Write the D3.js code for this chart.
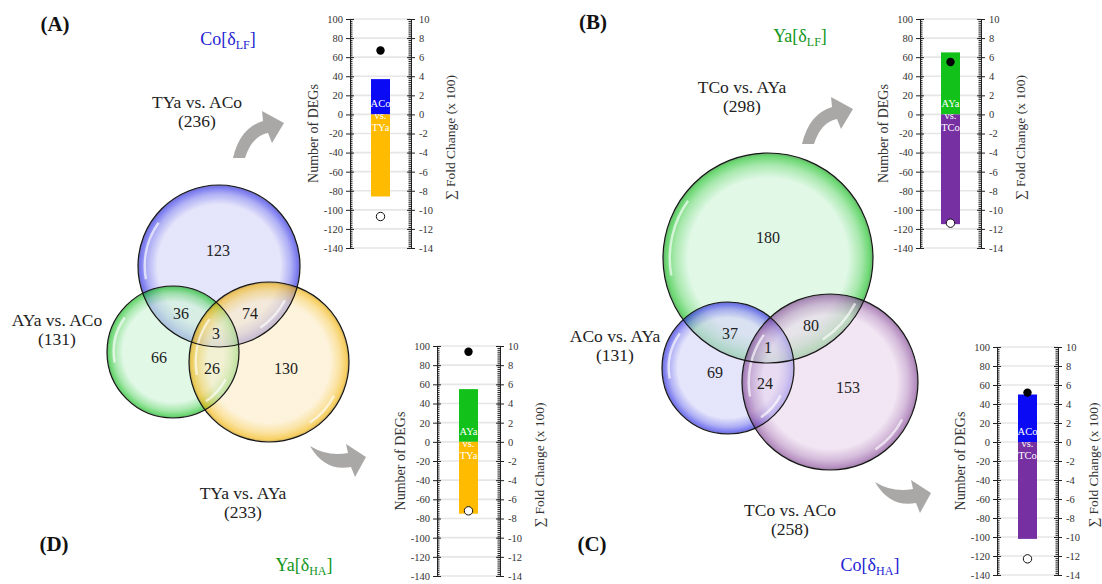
<!doctype html>
<html>
<head>
<meta charset="utf-8">
<title>DEG Venn diagrams</title>
<style>
  body { margin: 0; background: #fff; }
  svg text { font-family: "Liberation Serif", "DejaVu Serif", serif; }
</style>
<script src="https://d3js.org/d3.v7.min.js"></script>
</head>
<body>
<svg id="fig" width="1102" height="584"></svg>
<script>
   // ---- data ----
   // small bar charts, panels A, B, C, D
   var upCounts   = [37, 65, 50, 55];
   var downCounts = [-86, -115, -102, -75];
   var upFold     = [6.7, 5.5, 5.2, 9.4];
   var downFold   = [-10.7, -11.4, -12.3, -7.2];
   var upGroup    = ["ACo", "AYa", "ACo", "AYa"];
   var downGroup  = ["TYa", "TCo", "TCo", "TYa"];
   var degTicks   = [100, 80, 60, 40, 20, 0, -20, -40, -60, -80, -100, -120, -140];
   var foldTicks  = [10, 8, 6, 4, 2, 0, -2, -4, -6, -8, -10, -12, -14];

   // venn diagrams: regions = [only1, only2, only3, 1&2, 1&3, 2&3, all]
   var vennSetsA    = ["TYa vs. ACo", "AYa vs. ACo", "TYa vs. AYa"];
   var vennTotalsA  = [236, 131, 233];
   var vennRegionsA = [123, 66, 130, 36, 74, 26, 3];
   var vennSetsB    = ["TCo vs. AYa", "ACo vs. AYa", "TCo vs. ACo"];
   var vennTotalsB  = [298, 131, 258];
   var vennRegionsB = [180, 69, 153, 37, 80, 24, 1];

   var panelLetters = ["(A)", "(B)", "(C)", "(D)"];
   var panelNames   = ["Co", "Ya", "Co", "Ya"];
   var panelSubs    = ["LF", "LF", "HA", "HA"];

   // ---- styles / layout ----
   var groupColor = { ACo: "#0a0af5", AYa: "#12c21a", TYa: "#ffbb00", TCo: "#7630a2" };
   var nameColor  = { Co: "#2323d2", Ya: "#12961a" };
   var vennColors = {
      blue:   { tint: "#d4d4f8", rim: "#2a2ae6" },
      green:  { tint: "#cff4d8", rim: "#12c01c" },
      orange: { tint: "#fcecc6", rim: "#f2b100" },
      purple: { tint: "#ead6ec", rim: "#8a4c9c" }
   };

   var miniBoxes = [
      { xl: 350, xr: 411, y0: 19,  y1: 248, letter: [55, 24],  name: [228, 40] },
      { xl: 920, xr: 981, y0: 19,  y1: 248, letter: [593, 22], name: [800, 37] },
      { xl: 997, xr: 1058, y0: 347, y1: 575, letter: [592, 544], name: [870, 566] },
      { xl: 437, xr: 500, y0: 346, y1: 576, letter: [54, 544], name: [304, 566] }
   ];

   var vennLayoutA = {
      colors: ["blue", "green", "orange"],
      circles: [[219, 266, 81], [173, 352, 66], [269, 362, 80]],
      regions: [[218, 250], [159, 357], [286, 368], [181, 313], [250, 313], [212, 368], [216, 333]],
      labels: [[197, 102], [57, 320], [243, 493]]
   };
   var vennLayoutB = {
      colors: ["green", "blue", "purple"],
      circles: [[768, 258, 105], [728, 368, 66], [830, 382, 88]],
      regions: [[768, 237], [715, 372], [848, 387], [730, 333], [811, 325], [765, 383], [768, 347]],
      labels: [[742, 87], [615, 336], [790, 510]]
   };

   var svg = d3.select("#fig");
   var defs = svg.append("defs");

   Object.keys(vennColors).forEach(function(k) {
      var c = vennColors[k];
      var gr = defs.append("radialGradient").attr("id", "rg-" + k);
      gr.append("stop").attr("offset", "0%").attr("stop-color", c.tint);
      gr.append("stop").attr("offset", "76%").attr("stop-color", c.tint);
      gr.append("stop").attr("offset", "89%").attr("stop-color", d3.interpolateRgb(c.tint, c.rim)(0.5));
      gr.append("stop").attr("offset", "97%").attr("stop-color", c.rim);
      gr.append("stop").attr("offset", "100%").attr("stop-color", d3.interpolateRgb(c.rim, "#000")(0.35));
   });

   // ---- arrows (decoration) ----
   var upArrow = "M233,158 Q240,128 263,121 L262,111 L284,123 L272,143 L268,133 Q252,136 245,158 Z";
   var downArrow = "M310,446 Q328,457 348,453 L346,444 L366,457 L355,477 L351,467 Q325,472 310,446 Z";
   var arrows = [[upArrow, 0, 0], [upArrow, 569, -14], [downArrow, 565, 36], [downArrow, 0, 0]];
   svg.append("g").selectAll("path")
      .data(arrows)
      .enter()
         .append("path")
            .attr("d", function(d) { return d[0]; })
            .attr("transform", function(d) { return "translate(" + d[1] + "," + d[2] + ")"; })
            .attr("fill", "#aaa7a7");

   // ---- venn ----
   function drawVenn(sets, totals, regions, layout)
   {
      var g = svg.append("g");
      g.selectAll("circle.fill")
         .data(layout.circles)
         .enter()
            .append("circle")
               .attr("cx", function(d) { return d[0]; })
               .attr("cy", function(d) { return d[1]; })
               .attr("r", function(d) { return d[2]; })
               .attr("fill", function(d, i) { return "url(#rg-" + layout.colors[i] + ")"; })
               .attr("fill-opacity", 0.62);

      // glossy highlights
      var hl = d3.arc();
      layout.circles.forEach(function(c) {
         [[-1.75, -0.95], [2.05, 2.55]].forEach(function(a) {
            g.append("path")
               .attr("transform", "translate(" + c[0] + "," + c[1] + ")")
               .attr("d", hl({ innerRadius: c[2] - 8, outerRadius: c[2] - 5.5, startAngle: a[0], endAngle: a[1] }))
               .attr("fill", "#fff")
               .attr("opacity", 0.65);
         });
      });

      g.selectAll("circle.edge")
         .data(layout.circles)
         .enter()
            .append("circle")
               .attr("cx", function(d) { return d[0]; })
               .attr("cy", function(d) { return d[1]; })
               .attr("r", function(d) { return d[2]; })
               .attr("fill", "none")
               .attr("stroke", "#161616")
               .attr("stroke-width", 1.2);

      g.selectAll("text.num")
         .data(regions)
         .enter()
            .append("text")
               .attr("x", function(d, i) { return layout.regions[i][0]; })
               .attr("y", function(d, i) { return layout.regions[i][1]; })
               .attr("dy", "0.35em")
               .attr("text-anchor", "middle")
               .attr("font-size", 16)
               .attr("fill", "#222")
               .text(function(d) { return d; });

      sets.forEach(function(s, i) {
         var p = layout.labels[i];
         var t = g.append("text")
            .attr("text-anchor", "middle")
            .attr("font-size", 17.5)
            .attr("fill", "#222");
         t.append("tspan").attr("x", p[0]).attr("y", p[1]).attr("dy", "0.35em").text(s);
         t.append("tspan").attr("x", p[0]).attr("y", p[1] + 19).attr("dy", "0.35em").text("(" + totals[i] + ")");
      });
   }

   drawVenn(vennSetsA, vennTotalsA, vennRegionsA, vennLayoutA);
   drawVenn(vennSetsB, vennTotalsB, vennRegionsB, vennLayoutB);

   // ---- small bar charts ----
   function styleAxis(sel)
   {
      sel.attr("font-family", "Liberation Serif");
      sel.selectAll("path, line").attr("stroke", "#222");
      sel.selectAll("text")
         .style("font-family", "'Liberation Serif', serif")
         .style("font-size", "10.5px")
         .attr("fill", "#333");
   }

   var plainNum = function(d) { return String(d); };

   function drawMini(i)
   {
      var box = miniBoxes[i];
      var g = svg.append("g");
      var y  = d3.scaleLinear().domain([-140, 100]).range([box.y1, box.y0]);
      var yR = d3.scaleLinear().domain([-14, 10]).range([box.y1, box.y0]);
      var cx = (box.xl + box.xr) / 2;
      var bw = 19;
      var minor = d3.range(-140, 100.1, 2);

      g.selectAll("line.grid")
         .data(degTicks)
         .enter()
            .append("line")
               .attr("x1", box.xl).attr("x2", box.xr)
               .attr("y1", function(d) { return y(d); })
               .attr("y2", function(d) { return y(d); })
               .attr("stroke", "#e6e6e6")
               .attr("stroke-width", 1.6);

      g.append("rect")
         .attr("x", cx - bw / 2).attr("width", bw)
         .attr("y", y(upCounts[i])).attr("height", y(0) - y(upCounts[i]))
         .attr("fill", groupColor[upGroup[i]]);
      g.append("rect")
         .attr("x", cx - bw / 2).attr("width", bw)
         .attr("y", y(0)).attr("height", y(downCounts[i]) - y(0))
         .attr("fill", groupColor[downGroup[i]]);

      var lab = g.append("text")
         .attr("text-anchor", "middle")
         .attr("font-size", 10.5)
         .attr("fill", "#fff");
      [upGroup[i], "vs.", downGroup[i]].forEach(function(s, k) {
         lab.append("tspan").attr("x", cx).attr("y", y(0) - 11 + k * 12).attr("dy", "0.35em").text(s);
      });

      // left axis
      g.append("g").attr("transform", "translate(" + box.xl + ",0)")
         .call(d3.axisLeft(y).tickValues(degTicks).tickFormat(plainNum).tickSize(4).tickSizeOuter(0).tickPadding(3))
         .call(styleAxis);
      g.append("g").attr("transform", "translate(" + box.xl + ",0)")
         .call(d3.axisRight(y).tickValues(minor).tickSize(2.5).tickSizeOuter(0).tickFormat(""))
         .call(styleAxis);
      g.append("g").attr("transform", "translate(" + box.xl + ",0)")
         .call(d3.axisRight(y).tickValues(degTicks).tickSize(4).tickSizeOuter(0).tickFormat(""))
         .call(styleAxis);

      // right axis
      g.append("g").attr("transform", "translate(" + box.xr + ",0)")
         .call(d3.axisRight(yR).tickValues(foldTicks).tickFormat(plainNum).tickSize(4).tickSizeOuter(0).tickPadding(4))
         .call(styleAxis);
      g.append("g").attr("transform", "translate(" + box.xr + ",0)")
         .call(d3.axisLeft(yR).tickValues(minor.map(function(v) { return v / 10; })).tickSize(2.5).tickSizeOuter(0).tickFormat(""))
         .call(styleAxis);
      g.append("g").attr("transform", "translate(" + box.xr + ",0)")
         .call(d3.axisLeft(yR).tickValues(foldTicks).tickSize(4).tickSizeOuter(0).tickFormat(""))
         .call(styleAxis);

      // fold change points
      g.append("circle")
         .attr("cx", cx).attr("cy", yR(upFold[i])).attr("r", 4.2)
         .attr("fill", "#000");
      g.append("circle")
         .attr("cx", cx).attr("cy", yR(downFold[i])).attr("r", 4.2)
         .attr("fill", "#fff").attr("stroke", "#111").attr("stroke-width", 1);

      var my = (box.y0 + box.y1) / 2;
      g.append("text")
         .attr("transform", "translate(" + (box.xl - 37) + "," + my + ") rotate(-90)")
         .attr("text-anchor", "middle").attr("dy", "0.35em")
         .attr("font-size", 14).attr("fill", "#333")
         .text("Number of DEGs");
      g.append("text")
         .attr("transform", "translate(" + Math.min(box.xr + 39, 1093) + "," + (my + 4) + ") rotate(-90)")
         .attr("text-anchor", "middle").attr("dy", "0.35em")
         .attr("font-size", 13.5).attr("fill", "#333")
         .text("\u2211 Fold Change (x 100)");

      // panel letter and name
      svg.append("text")
         .attr("x", box.letter[0]).attr("y", box.letter[1]).attr("dy", "0.35em")
         .attr("text-anchor", "middle").attr("font-size", 21).attr("font-weight", "bold")
         .attr("fill", "#111")
         .text(panelLetters[i]);
      var nm = svg.append("text")
         .attr("x", box.name[0]).attr("y", box.name[1]).attr("dy", "0.3em")
         .attr("text-anchor", "middle").attr("font-size", 18)
         .attr("fill", nameColor[panelNames[i]]);
      nm.append("tspan").text(panelNames[i] + "[\u03b4");
      nm.append("tspan").attr("font-size", 12).attr("dy", 4).text(panelSubs[i]);
      nm.append("tspan").attr("dy", -4).text("]");
   }

   [0, 1, 2, 3].forEach(drawMini);
</script>
</body>
</html>
